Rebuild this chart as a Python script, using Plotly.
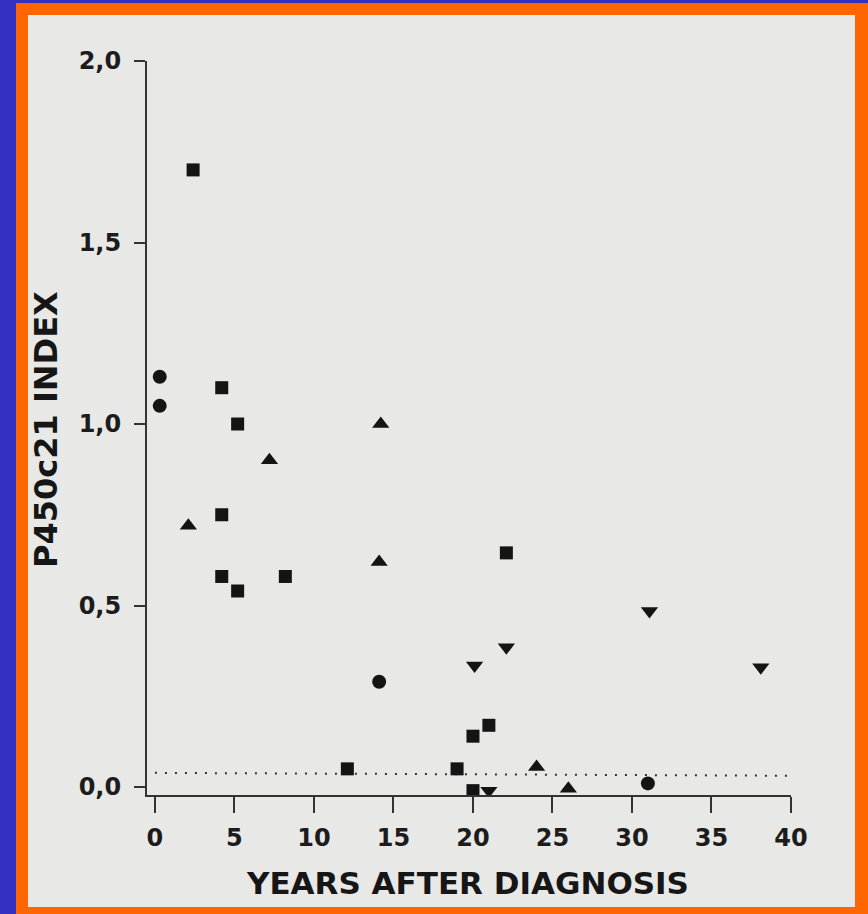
import plotly.graph_objects as go

# ---- data ----
circle_x = [0.3, 0.3, 14.1, 31.0]
circle_y = [1.13, 1.05, 0.29, 0.01]

square_x = [2.4, 4.2, 5.2, 4.2, 4.2, 5.2, 8.2, 12.1, 19.0, 20.0, 21.0, 20.0, 22.1]
square_y = [1.70, 1.10, 1.00, 0.75, 0.58, 0.54, 0.58, 0.05, 0.05, 0.14, 0.17, -0.01, 0.645]

tri_up_x = [2.1, 7.2, 14.2, 14.1, 24.0, 26.0]
tri_up_y = [0.72, 0.90, 1.00, 0.62, 0.055, -0.005]

tri_down_x = [20.1, 22.1, 31.1, 38.1, 21.0]
tri_down_y = [0.335, 0.385, 0.485, 0.33, -0.01]

cutoff_x = [0.0, 40.0]
cutoff_y = [0.039, 0.031]

x_ticks = [0, 5, 10, 15, 20, 25, 30, 35, 40]
y_ticks = [0.0, 0.5, 1.0, 1.5, 2.0]
y_tick_labels = ["0,0", "0,5", "1,0", "1,5", "2,0"]

x_title = "YEARS AFTER DIAGNOSIS"
y_title = "P450c21 INDEX"

# ---- layout geometry (pixels) ----
W, H = 868, 914
L, R, T, B = 147, 77, 61, 119
pw, ph = W - L - R, H - T - B


def px(x):
    return (x - L) / pw


def py(y):
    return (H - B - y) / ph


INK = "#141414"
fig = go.Figure()

fig.add_trace(go.Scatter(x=cutoff_x, y=cutoff_y, mode="lines",
                         line=dict(color="#333333", width=2, dash="2px,8px"),
                         hoverinfo="skip", showlegend=False))

marker_common = dict(color=INK, line=dict(width=0))
fig.add_trace(go.Scatter(x=circle_x, y=circle_y, mode="markers",
                         marker=dict(symbol="circle", size=14, **marker_common),
                         showlegend=False))
fig.add_trace(go.Scatter(x=square_x, y=square_y, mode="markers",
                         marker=dict(symbol="square", size=13, **marker_common),
                         showlegend=False))
fig.add_trace(go.Scatter(x=tri_up_x, y=tri_up_y, mode="markers",
                         marker=dict(symbol="triangle-up", size=15, **marker_common),
                         showlegend=False))
fig.add_trace(go.Scatter(x=tri_down_x, y=tri_down_y, mode="markers",
                         marker=dict(symbol="triangle-down", size=15, **marker_common),
                         showlegend=False))

# frame: blue outer, orange band, light paper
shapes = [
    dict(type="rect", xref="paper", yref="paper", layer="below",
         x0=px(16), x1=px(W + 2), y0=py(H + 2), y1=py(3),
         fillcolor="#FF6600", line=dict(width=0)),
    dict(type="rect", xref="paper", yref="paper", layer="below",
         x0=px(28), x1=px(855), y0=py(907), y1=py(15),
         fillcolor="#E8E8E6", line=dict(width=0)),
]

annotations = [
    dict(text=x_title, xref="paper", yref="paper", x=px(467), y=py(883),
         xanchor="center", yanchor="middle", showarrow=False,
         font=dict(family="DejaVu Sans", size=31, color="#161616", weight="bold")),
    dict(text=y_title, xref="paper", yref="paper", x=px(46), y=py(430),
         xanchor="center", yanchor="middle", showarrow=False, textangle=-90,
         font=dict(family="DejaVu Sans", size=32, color="#161616", weight="bold")),
]

tickfont = dict(family="DejaVu Sans", size=24, color="#1c1c1c", weight="bold")

fig.update_layout(
    width=W, height=H,
    margin=dict(l=L, r=R, t=T, b=B, pad=0),
    paper_bgcolor="#3530C0",
    plot_bgcolor="rgba(0,0,0,0)",
    shapes=shapes,
    annotations=annotations,
    showlegend=False,
    xaxis=dict(range=[-0.5, 40], tickvals=x_ticks, ticks="outside", ticklen=16,
               tickwidth=2, tickcolor="#333333", showline=True, linecolor="#333333",
               linewidth=2, showgrid=False, zeroline=False, tickfont=tickfont,
               ticklabelstandoff=4),
    yaxis=dict(range=[-0.022, 2.0], tickvals=y_ticks, ticktext=y_tick_labels,
               ticks="outside", ticklen=11, tickwidth=2, tickcolor="#333333",
               showline=True, linecolor="#333333", linewidth=2, showgrid=False,
               zeroline=False, tickfont=tickfont, ticklabelstandoff=8),
)

fig.write_html("out.html")
